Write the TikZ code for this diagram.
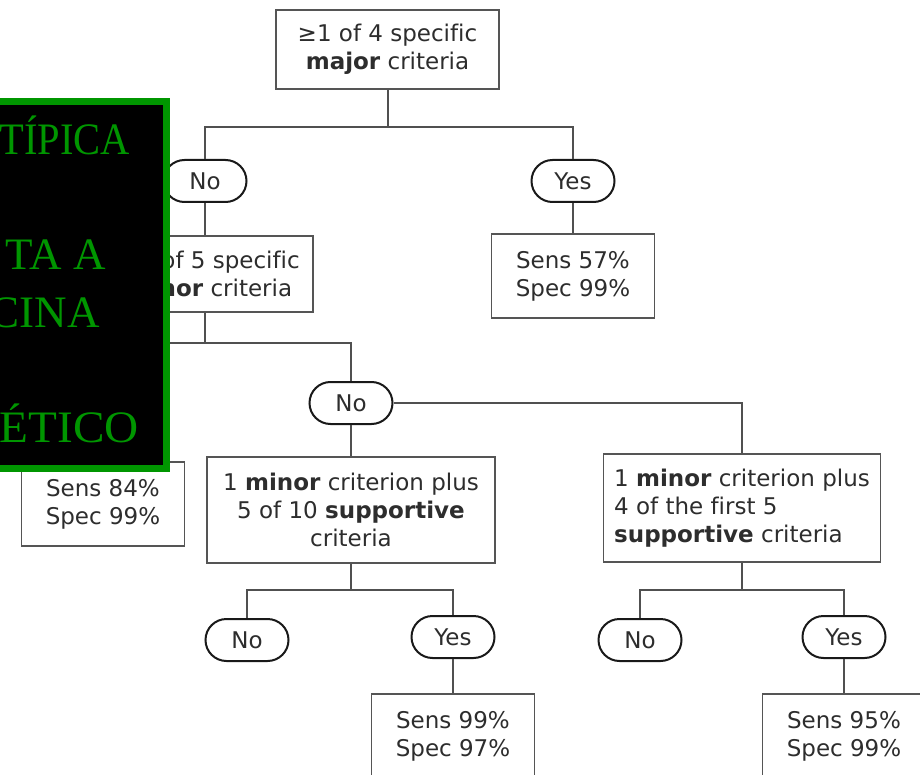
\documentclass[tikz,border=0pt]{standalone}
\usepackage{fontspec}
\setmainfont[Ligatures=NoCommon]{DejaVu Sans}
\newfontfamily\bannerfont{Liberation Serif}
\definecolor{txtgray}{RGB}{45,45,45}
\definecolor{boxgray}{RGB}{85,85,85}
\definecolor{ovalblack}{RGB}{25,25,25}
\definecolor{linegray}{RGB}{80,80,80}
\definecolor{bannergreen}{RGB}{0,150,0}

\tikzset{
  every node/.style={font=\fontsize{23}{28}\selectfont, text=txtgray, inner sep=0pt},
  critbox/.style 2 args={draw=boxgray, line width=1.8pt, fill=white,
    minimum width=#1, minimum height=#2, align=center},
  resbox/.style={critbox={163pt}{84pt}},
  choice/.style={draw=ovalblack, line width=2pt, fill=white, rounded corners=21pt,
    minimum width=83pt, minimum height=42pt},
  link/.style={draw=linegray, line width=2pt},
  bannertext/.style={font=\bannerfont\fontsize{45}{45}\selectfont, text=bannergreen,
    anchor=base east}
}

\begin{document}
\begin{tikzpicture}[x=1pt,y=-1pt]
\useasboundingbox (0,0) rectangle (920,775);
\fill[white] (0,0) rectangle (920,775);
\begin{scope}
\clip (0,0) rectangle (920,775);

% junction points of the tree
\coordinate (j1) at (387.5,127);
\coordinate (j2) at (205,343);
\coordinate (j3) at (351,590);
\coordinate (j4) at (742,590);

% decision boxes
\node[critbox={223pt}{79pt}] (major) at (387.5,49.5)
  {≥1 of 4 specific\\\textbf{major} criteria};
\node[critbox={206pt}{76pt}] (minor) at (210,274)
  {≥1 of 5 specific\\\textbf{minor} criteria};
\node[critbox={288pt}{106pt}] (suppA) at (351,510)
  {1 \textbf{minor} criterion plus\\5 of 10 \textbf{supportive}\\criteria};
\node[critbox={277pt}{108pt}, align=left] (suppB) at (742,508)
  {1 \textbf{minor} criterion plus\\4 of the first 5\\\textbf{supportive} criteria};

% yes / no choices
\node[choice] (no1) at (205,181) {No};
\node[choice] (yes1) at (573,181) {Yes};
\node[choice] (no2) at (351,403) {No};
\node[choice] (no3) at (247,640) {No};
\node[choice] (yes3) at (453,637) {Yes};
\node[choice] (no4) at (640,640) {No};
\node[choice] (yes4) at (844,637) {Yes};

% outcomes
\node[resbox] (res1) at (573,276) {Sens 57\%\\Spec 99\%};
\node[resbox] (res2) at (103,504) {Sens 84\%\\Spec 99\%};
\node[resbox] (res3) at (453,736) {Sens 99\%\\Spec 97\%};
\node[resbox] (res4) at (844,736) {Sens 95\%\\Spec 99\%};

% connectors
\draw[link] (major.south) -- (j1);
\draw[link] (j1) -| (no1.north);
\draw[link] (j1) -| (yes1.north);
\draw[link] (yes1.south) -- (res1.north);
\draw[link] (no1.south) -- (no1.south |- minor.north);
\draw[link] (j2 |- minor.south) -- (j2);
\draw[link] (j2) -| (res2.north);
\draw[link] (j2) -| (no2.north);
\draw[link] (no2.south) -- (suppA.north);
\draw[link] (no2.east) -| (suppB.north);
\draw[link] (suppA.south) -- (j3);
\draw[link] (j3) -| (no3.north);
\draw[link] (j3) -| (yes3.north);
\draw[link] (yes3.south) -- (res3.north);
\draw[link] (suppB.south) -- (j4);
\draw[link] (j4) -| (no4.north);
\draw[link] (j4) -| (yes4.north);
\draw[link] (yes4.south) -- (res4.north);

% green-framed black banner in front of the tree
\draw[draw=bannergreen, line width=7pt, fill=black] (-10,101.5) rectangle (166.5,468.5);
\node[bannertext] (b1) at (130,155) {\scalebox{0.9}[1]{TÍPICA}};
\node[bannertext] (b2) at (106,270) {\scalebox{1.0}[1]{TA A}};
\node[bannertext] (b3) at (100,327) {\scalebox{1.0}[1]{CINA}};
\node[bannertext] (b4) at (139,442) {\scalebox{1.05}[1]{ÉTICO}};
\end{scope}
\end{tikzpicture}
\end{document}
